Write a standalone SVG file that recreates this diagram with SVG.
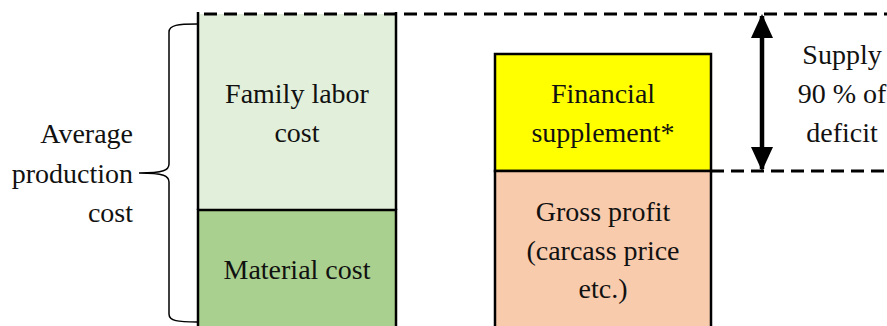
<svg xmlns="http://www.w3.org/2000/svg" width="887" height="326" viewBox="0 0 887 326">
  <defs>
    <style>
      .box { stroke: #000; stroke-width: 2.5; }
      .edge { stroke: #000; stroke-width: 2.5; fill: none; }
      .lbl { font-size: 28px; fill: #111; text-anchor: middle; }
      .end { text-anchor: end; }
      .dash { stroke: #000; stroke-width: 3; stroke-dasharray: 13 7; fill: none; }
    </style>
    <marker id="head" viewBox="0 0 24 22" refX="22" refY="11" markerWidth="24" markerHeight="22" markerUnits="userSpaceOnUse" orient="auto-start-reverse">
      <path d="M0,0 L24,11 L0,22 Z" fill="#000"/>
    </marker>
  </defs>
  <rect width="887" height="326" fill="#fff"/>

  <g font-family="'Liberation Serif', 'Times New Roman', Times, serif">
    <!-- Left column: production cost (top edge is the dashed level line) -->
    <g id="family-labor">
      <rect x="198" y="14" width="198" height="196" fill="#e2efda"/>
      <path class="edge" d="M198,12 V210 M396,12 V210"/>
      <text class="lbl" x="297" y="103">Family labor</text>
      <text class="lbl" x="297" y="142">cost</text>
    </g>
    <g id="material-cost">
      <rect class="box" x="198" y="210" width="198" height="125" fill="#a9d08e"/>
      <text class="lbl" x="297" y="279">Material cost</text>
    </g>

    <!-- Right column: income -->
    <g id="financial-supplement">
      <rect class="box" x="495" y="54" width="216" height="117" fill="#ffff00"/>
      <text class="lbl" x="603" y="103">Financial</text>
      <text class="lbl" x="603" y="142">supplement*</text>
    </g>
    <g id="gross-profit">
      <rect class="box" x="495" y="171" width="216" height="164" fill="#f8cbad"/>
      <text class="lbl" x="603" y="221">Gross profit</text>
      <text class="lbl" x="603" y="260">(carcass price</text>
      <text class="lbl" x="603" y="298">etc.)</text>
    </g>

    <g id="average-production-cost">
      <text class="lbl end" x="133" y="143">Average</text>
      <text class="lbl end" x="133" y="183">production</text>
      <text class="lbl end" x="133" y="222">cost</text>
    </g>

    <g id="supply-label">
      <text class="lbl" x="842" y="64">Supply</text>
      <text class="lbl" x="842" y="103">90 % of</text>
      <text class="lbl" x="842" y="142">deficit</text>
    </g>
  </g>

  <g id="connectors">
    <!-- brace spanning the production cost -->
    <path d="M197,24 C178,24 169,25 169,32 L169,164 C169,170 164,173 139,173 C164,173 169,176 169,182 L169,314 C169,321 178,322 197,322" fill="none" stroke="#000" stroke-width="1.5"/>
    <!-- reference levels -->
    <line class="dash" x1="204" y1="14" x2="887" y2="14"/>
    <line class="dash" x1="711" y1="171" x2="887" y2="171"/>
    <!-- deficit span -->
    <line x1="762" y1="16" x2="762" y2="169" stroke="#000" stroke-width="4.5" marker-start="url(#head)" marker-end="url(#head)"/>
  </g>
</svg>
